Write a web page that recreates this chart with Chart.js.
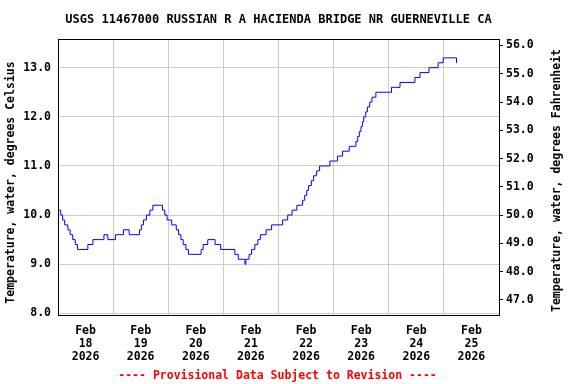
<!DOCTYPE html>
<html>
<head>
<meta charset="utf-8">
<script src="https://cdn.jsdelivr.net/npm/chart.js@4/dist/chart.umd.min.js"></script>
<style>
html, body { margin: 0; padding: 0; background: #ffffff; }
canvas { display: block; }
</style>
</head>
<body>
<canvas id="c" width="576" height="384"></canvas>
<script>
// ---- text ----
const TITLE = 'USGS 11467000 RUSSIAN R A HACIENDA BRIDGE NR GUERNEVILLE CA';
const FOOTER = '---- Provisional Data Subject to Revision ----';
const Y_LEFT_TITLE = 'Temperature, water, degrees Celsius';
const Y_RIGHT_TITLE = 'Temperature, water, degrees Fahrenheit';

// ---- data: hours since Feb 18 2026 00:00, water temperature (deg C) ----
const HOURS = [
  0.25, 1.2, 2.0, 2.9, 4.3, 5.3, 6.4, 7.5, 8.5, 13.0,
  15.2, 20.0, 21.7, 25.0, 28.5, 31.0, 35.5, 36.3, 37.2, 38.5,
  40.0, 41.3, 45.5, 46.5, 47.5, 49.5, 51.5, 52.5, 53.5, 54.5,
  55.7, 56.8, 62.3, 63.2, 65.2, 68.4, 70.8, 77.0, 78.5, 81.4,
  81.8, 83.2, 84.3, 85.7, 87.0, 88.1, 90.6, 93.0, 97.8, 100.0,
  101.9, 104.0, 106.5, 107.4, 108.3, 109.1, 110.3, 111.3, 112.6, 113.9,
  118.4, 121.7, 123.9, 126.8, 129.7, 130.5, 131.2, 131.9, 132.5, 133.1,
  134.0, 134.7, 135.7, 136.7, 138.4, 145.2, 148.9, 155.4, 157.6, 161.5,
  165.5, 167.7, 173.5, 173.8
];
const TEMP_C = [
  10.1, 10.0, 9.9, 9.8, 9.7, 9.6, 9.5, 9.4, 9.3, 9.4,
  9.5, 9.6, 9.5, 9.6, 9.7, 9.6, 9.7, 9.8, 9.9, 10.0,
  10.1, 10.2, 10.1, 10.0, 9.9, 9.8, 9.7, 9.6, 9.5, 9.4,
  9.3, 9.2, 9.3, 9.4, 9.5, 9.4, 9.3, 9.2, 9.1, 9.0,
  9.1, 9.2, 9.3, 9.4, 9.5, 9.6, 9.7, 9.8, 9.9, 10.0,
  10.1, 10.2, 10.3, 10.4, 10.5, 10.6, 10.7, 10.8, 10.9, 11.0,
  11.1, 11.2, 11.3, 11.4, 11.5, 11.6, 11.7, 11.8, 11.9, 12.0,
  12.1, 12.2, 12.3, 12.4, 12.5, 12.6, 12.7, 12.8, 12.9, 13.0,
  13.1, 13.2, 13.1, 13.1
];

// ---- axes ----
const DAY_GRID_HOURS = [0, 24, 48, 72, 96, 120, 144, 168, 192];
const DATE_LABEL_HOURS = [12, 36, 60, 84, 108, 132, 156, 180];
const DATE_LABELS = [
  ['Feb', '18', '2026'], ['Feb', '19', '2026'], ['Feb', '20', '2026'], ['Feb', '21', '2026'],
  ['Feb', '22', '2026'], ['Feb', '23', '2026'], ['Feb', '24', '2026'], ['Feb', '25', '2026']
];
const C_TICKS = [8, 9, 10, 11, 12, 13];
const F_TICKS = [47, 48, 49, 50, 51, 52, 53, 54, 55, 56];
const X_RANGE = [0, 192];
const C_RANGE = [7.945, 13.584];
const F_RANGE = [46.43, 56.23];

const FONT_FAMILY = '"DejaVu Sans Mono", "Liberation Mono", monospace';
const tickFont = { family: FONT_FAMILY, size: 11.5, weight: 'bold', lineHeight: 1.15 };

const textPlugin = {
  id: 'usgsText',
  afterDraw(chart) {
    const { ctx, chartArea: a } = chart;
    ctx.save();
    ctx.strokeStyle = '#000000';
    ctx.lineWidth = 1;
    ctx.strokeRect(a.left + 0.5, a.top + 0.5, a.right - a.left, a.bottom - a.top - 1);
    const cx = (a.left + a.right) / 2;
    ctx.fillStyle = '#000000';
    ctx.textAlign = 'center';
    ctx.textBaseline = 'middle';
    ctx.font = 'bold 12px ' + FONT_FAMILY;
    ctx.fillText(TITLE, cx, 20);
    ctx.font = 'bold 11.5px ' + FONT_FAMILY;
    ctx.save();
    ctx.translate(11.5, 182.5);
    ctx.rotate(-Math.PI / 2);
    ctx.fillText(Y_LEFT_TITLE, 0, 0);
    ctx.restore();
    ctx.save();
    ctx.translate(557, 180.5);
    ctx.rotate(-Math.PI / 2);
    ctx.fillText(Y_RIGHT_TITLE, 0, 0);
    ctx.restore();
    ctx.fillStyle = '#ff0000';
    ctx.fillText(FOOTER, cx - 1, 376);
    ctx.restore();
  }
};

new Chart(document.getElementById('c'), {
  type: 'line',
  data: {
    datasets: [{
      data: HOURS.map((h, i) => ({ x: h, y: TEMP_C[i] })),
      borderColor: '#0000ff',
      borderWidth: 1,
      pointRadius: 0,
      fill: false,
      stepped: true,
      tension: 0,
      xAxisID: 'x',
      yAxisID: 'y'
    }]
  },
  options: {
    responsive: false,
    devicePixelRatio: 1,
    animation: false,
    events: [],
    layout: { padding: { top: 39, left: 0, right: 0, bottom: 0 } },
    plugins: { legend: { display: false }, title: { display: false }, tooltip: { enabled: false } },
    scales: {
      x: {
        type: 'linear', position: 'bottom', min: X_RANGE[0], max: X_RANGE[1],
        afterBuildTicks: s => { s.ticks = DAY_GRID_HOURS.map(v => ({ value: v })); },
        ticks: { display: false },
        grid: { color: '#cccccc', lineWidth: 1, drawTicks: false },
        border: { display: false },
        afterFit: s => { s.height = 0; }
      },
      xl: {
        type: 'linear', position: 'bottom', min: X_RANGE[0], max: X_RANGE[1],
        afterBuildTicks: s => { s.ticks = DATE_LABEL_HOURS.map(v => ({ value: v })); },
        ticks: {
          autoSkip: false, maxRotation: 0, minRotation: 0, padding: 8,
          color: '#000000', font: tickFont,
          callback: (v, i) => DATE_LABELS[i]
        },
        grid: { display: false, drawTicks: false },
        border: { display: false },
        afterFit: s => { s.height = 68; }
      },
      y: {
        type: 'linear', position: 'left', min: C_RANGE[0], max: C_RANGE[1],
        afterBuildTicks: s => { s.ticks = C_TICKS.map(v => ({ value: v })); },
        ticks: { padding: 7, color: '#000000', font: tickFont, callback: v => Number(v).toFixed(1) },
        grid: { color: '#cccccc', lineWidth: 1, drawTicks: false },
        border: { display: false },
        afterFit: s => { s.width = 58; }
      },
      y2: {
        type: 'linear', position: 'right', min: F_RANGE[0], max: F_RANGE[1],
        afterBuildTicks: s => { s.ticks = F_TICKS.map(v => ({ value: v })); },
        ticks: { padding: 3, color: '#000000', font: tickFont, callback: v => Number(v).toFixed(1) },
        grid: { drawOnChartArea: false, drawTicks: true, tickLength: 4, color: '#000000' },
        border: { display: false },
        afterFit: s => { s.width = 77; }
      }
    }
  },
  plugins: [textPlugin]
});
</script>
</body>
</html>
